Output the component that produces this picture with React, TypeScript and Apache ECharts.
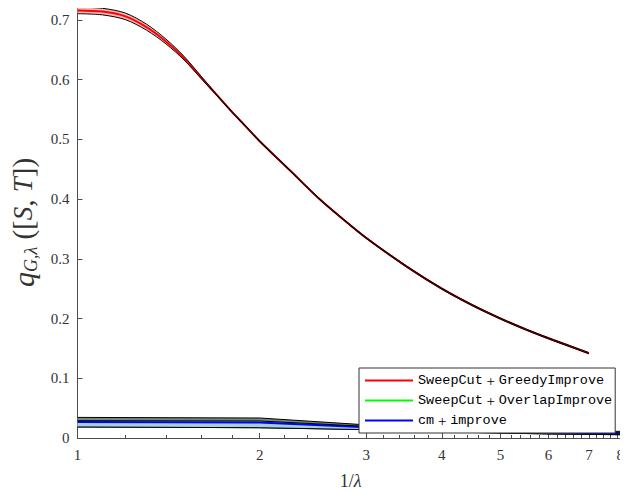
import React, { useEffect, useRef } from "react";
import * as echarts from "echarts";

// 1/lambda sample points for the SweepCut + GreedyImprove curve
const xRed = [1, 1.1, 1.2, 1.3, 1.4, 1.5, 1.6, 1.7, 1.8, 1.9, 2, 2.25, 2.5, 2.75, 3, 3.5, 4, 4.5, 5, 5.5, 6, 6.5, 7];
const redMean = [0.716, 0.714, 0.706, 0.688, 0.664, 0.636, 0.604, 0.574, 0.546, 0.521, 0.497, 0.447, 0.402, 0.366, 0.335, 0.287, 0.25, 0.222, 0.2, 0.182, 0.167, 0.154, 0.142];
const redUpper = [0.7215, 0.7195, 0.7115, 0.693, 0.668, 0.639, 0.606, 0.575, 0.547, 0.522, 0.498, 0.448, 0.403, 0.367, 0.336, 0.288, 0.251, 0.223, 0.201, 0.183, 0.168, 0.155, 0.143];
const redLower = [0.7105, 0.7085, 0.7005, 0.683, 0.66, 0.633, 0.602, 0.573, 0.545, 0.52, 0.496, 0.446, 0.401, 0.365, 0.334, 0.286, 0.249, 0.221, 0.199, 0.181, 0.166, 0.153, 0.141];

// bottom methods
const xLow = [1, 2, 3, 4, 5, 6, 7, 8];
const greenMean = [0.027, 0.026, 0.018, 0.0135, 0.011, 0.0093, 0.0082, 0.0072];
const greenUpper = [0.0345, 0.0335, 0.022, 0.017, 0.0145, 0.0128, 0.0117, 0.011];
const greenLower = [0.0185, 0.0172, 0.014, 0.0105, 0.0083, 0.0068, 0.006, 0.0055];
const blueMean = [0.027, 0.026, 0.018, 0.0135, 0.011, 0.0093, 0.0082, 0.0072];
const blueUpper = [0.029, 0.0285, 0.0195, 0.015, 0.0125, 0.0107, 0.0095, 0.0088];
const blueLower = [0.0185, 0.0172, 0.014, 0.0105, 0.0083, 0.0068, 0.006, 0.0055];

const xTickLabels = [1, 2, 3, 4, 5, 6, 7, 8];
const yTickLabels = [0, 0.1, 0.2, 0.3, 0.4, 0.5, 0.6, 0.7];
const seriesNames = ["SweepCut + GreedyImprove", "SweepCut + OverlapImprove", "cm + improve"];

function minorTicks(): number[] {
  const out: number[] = [];
  for (let i = 1; i < 35; i++) {
    const v = Math.round((1 + i * 0.2) * 10) / 10;
    if (Math.abs(v - Math.round(v)) > 1e-9) out.push(v);
  }
  return out;
}

const serif = "Liberation Serif";
const mono = "Liberation Mono";
const axisColor = "#4d4d4d";

function pairs(xs: number[], ys: number[]) {
  return xs.map((x, i) => [x, ys[i]]);
}

function bandSeries(xs: number[], up: number[], lo: number[], mean: number[], fill: string, color: string, name: string, z: number, smooth: number) {
  return [
    {
      type: "custom",
      data: xs.map((x, i) => [x, lo[i], up[i]]),
      encode: { x: 0, y: [1, 2] },
      silent: true,
      z,
      renderItem: (params: any, api: any) => {
        if (params.dataIndex !== 0) return null;
        const top: number[][] = xs.map((x, i) => api.coord([x, up[i]]));
        const bot: number[][] = xs.map((x, i) => api.coord([x, lo[i]])).reverse();
        return {
          type: "group",
          children: [
            { type: "polyline", shape: { points: top.concat(bot), smooth }, style: { fill, stroke: null } },
          ],
        };
      },
    },
    {
      name, type: "line", data: pairs(xs, mean), showSymbol: false, symbol: "none", smooth,
      lineStyle: { color, width: 2 }, itemStyle: { color }, silent: true, z: z + 1,
    },
    {
      type: "line", data: pairs(xs, up), showSymbol: false, symbol: "none", smooth,
      lineStyle: { color: "#000", width: 1 }, silent: true, z: z + 2,
    },
    {
      type: "line", data: pairs(xs, lo), showSymbol: false, symbol: "none", smooth,
      lineStyle: { color: "#000", width: 1 }, silent: true, z: z + 2,
    },
  ];
}

export default function App() {
  const ref = useRef<HTMLDivElement>(null);
  useEffect(() => {
    if (!ref.current) return;
    const chart = echarts.init(ref.current, undefined, { renderer: "svg" });
    const option: any = {
      animation: false,
      backgroundColor: "#fff",
      grid: { left: 74, right: 4, top: 7, bottom: 55, containLabel: false },
      legend: {
        data: seriesNames.map((n) => ({ name: n, icon: "rect" })),
        orient: "vertical",
        left: 359,
        top: 368,
        z: 50,
        itemWidth: 48,
        itemHeight: 2,
        itemGap: 5,
        padding: [5, 3, 5, 6],
        borderColor: "#333",
        borderWidth: 1,
        backgroundColor: "#fff",
        borderRadius: 0,
        formatter: (name: string) => {
          const parts = name.split(" + ");
          return `{m|${parts[0]}}{p| + }{m|${parts[1]}}`;
        },
        textStyle: {
          color: "#000",
          rich: {
            m: { fontFamily: mono, fontSize: 13.5, color: "#000" },
            p: { fontFamily: serif, fontSize: 15, color: "#000" },
          },
        },
      },
      xAxis: [
        {
          type: "log",
          min: 1,
          max: 8,
          logBase: 10,
          name: "{n|1/}{i|λ}",
          nameLocation: "middle",
          nameGap: 34,
          nameTextStyle: {
            rich: {
              n: { fontFamily: serif, fontSize: 18, color: "#333" },
              i: { fontFamily: serif, fontSize: 18, fontStyle: "italic", color: "#333" },
            },
          },
          axisLine: { show: true, lineStyle: { color: axisColor, width: 1 } },
          axisTick: { show: true, inside: true, length: 5, customValues: xTickLabels, lineStyle: { color: axisColor } },
          axisLabel: { show: true, customValues: xTickLabels, alignMaxLabel: "right", fontFamily: serif, fontSize: 15, color: "#333", margin: 9, formatter: (v: number) => String(Math.round(v)) },
          splitLine: { show: false },
          minorTick: { show: false },
        },
        {
          type: "log",
          min: 1,
          max: 8,
          logBase: 10,
          position: "bottom",
          axisLine: { show: false },
          axisTick: { show: true, inside: true, length: 3, customValues: minorTicks(), lineStyle: { color: axisColor } },
          axisLabel: { show: false },
          splitLine: { show: false },
        },
      ],
      yAxis: {
        type: "value",
        min: 0,
        max: 0.7217,
        name: "{q|q}{s|G,λ}{b| ([}{i|S}{b|, }{i|T}{b|])}",
        nameLocation: "middle",
        nameRotate: 90,
        nameGap: 38,
        nameTextStyle: {
          rich: {
            q: { fontFamily: serif, fontSize: 30, fontStyle: "italic", color: "#333" },
            s: { fontFamily: serif, fontSize: 18, fontStyle: "italic", color: "#333", padding: [15, 0, 0, 0] },
            b: { fontFamily: serif, fontSize: 29, color: "#333" },
            i: { fontFamily: serif, fontSize: 27, fontStyle: "italic", color: "#333" },
          },
        },
        axisLine: { show: true, lineStyle: { color: axisColor, width: 1 } },
        axisTick: { show: true, inside: true, length: 5, customValues: yTickLabels, lineStyle: { color: axisColor } },
        axisLabel: { customValues: yTickLabels, fontFamily: serif, fontSize: 15, color: "#333", margin: 8, formatter: (v: number) => (v === 0 ? "0" : v.toFixed(1)) },
        splitLine: { show: false },
      },
      series: [
        ...bandSeries(xLow, greenUpper, greenLower, greenMean, "#6f8c79", "#00ff00", seriesNames[1], 2, 0),
        ...bandSeries(xLow, blueUpper, blueLower, blueMean, "#a5cfd9", "#0000ff", seriesNames[2], 6, 0),
        ...bandSeries(xRed, redUpper, redLower, redMean, "#f6b8b8", "#ff0000", seriesNames[0], 10, 0.3),
      ],
    };
    chart.setOption(option);
    return () => chart.dispose();
  }, []);
  return <div ref={ref} style={{ width: 628, height: 495, margin: -8 }} />;
}
